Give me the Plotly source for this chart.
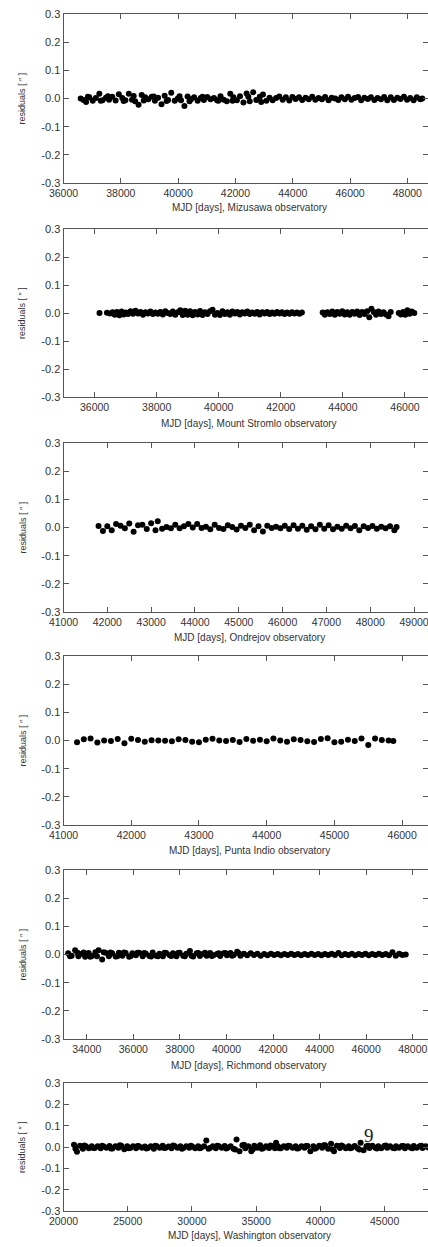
import plotly.graph_objects as go

W, H = 428, 1247

# ---------------- data ----------------
miz_x = [36600, 36700, 36790, 36900, 37020, 37130, 37250, 37360, 37480, 37590,
         37700, 37820, 37930, 38050, 38160, 38280, 38390, 38500, 38620, 38730,
         38850, 38960, 39080, 39190, 39300, 39420, 39530, 39650, 39760, 39880,
         39990, 40100, 40220, 40330, 40450, 40560, 40680, 40790, 40900, 41020,
         41130, 41250, 41360, 41480, 41590, 41700, 41820, 41930, 42050, 42160,
         42280, 42390, 42500, 42620, 42730, 42850, 42960, 43080, 43190, 43300,
         43420, 43530, 43650, 43760, 43880, 43990, 44100, 44220, 44330, 44450,
         44560, 44680, 44790, 44900, 45020, 45130, 45250, 45360, 45480, 45590,
         45700, 45820, 45930, 46050, 46160, 46280, 46390, 46500, 46620, 46730,
         46850, 46960, 47080, 47190, 47300, 47420, 47530, 47650, 47760, 47880,
         47990, 48100, 48220, 48330, 48450, 48520,
         36850, 37300, 37550, 38100, 38450, 38800, 39150, 39600, 40050, 40400,
         40850, 41400, 41900, 42450, 42900]
miz_y = [0.000, -0.005, -0.012, 0.004, -0.008, 0.002, 0.017, -0.006, 0.003, -0.004,
         0.006, -0.007, 0.015, 0.002, -0.006, 0.017, -0.004, -0.010, -0.022, 0.012,
         0.004, -0.003, 0.006, -0.008, 0.003, -0.020, 0.010, -0.005, 0.020, -0.008,
         0.000, -0.006, -0.027, 0.007, -0.003, 0.004, -0.008, 0.002, -0.005, 0.005,
         -0.003, 0.002, -0.006, 0.008, -0.004, -0.010, 0.017, 0.004, -0.006, 0.008,
         -0.014, 0.018, -0.010, 0.022, -0.005, 0.006, 0.014, -0.008, 0.003, -0.006,
         0.002, 0.007, -0.004, 0.004, -0.007, 0.005, -0.002, 0.004, -0.005, 0.003,
         -0.003, 0.006, -0.004, 0.002, -0.003, 0.005, -0.006, 0.003, 0.000, -0.005,
         0.004, -0.003, 0.006, -0.004, 0.002, 0.005, -0.006, 0.003, -0.002, 0.004,
         -0.005, 0.002, -0.003, 0.005, -0.006, 0.004, -0.005, 0.003, -0.002, 0.006,
         -0.004, 0.002, -0.006, 0.004, -0.003, 0.000,
         0.006, -0.008, 0.008, -0.009, 0.009, -0.007, 0.007, -0.009, 0.008, -0.010,
         0.006, -0.008, -0.008, 0.006, -0.012]

str_x = [36160, 36400, 36500, 36580, 36650, 36720, 36800, 36870, 36940, 37010,
         37080, 37160, 37240, 37320, 37400, 37480, 37560, 37640, 37720, 37800,
         37880, 37960, 38040, 38120, 38200, 38280, 38360, 38440, 38520, 38600,
         38680, 38760, 38840, 38920, 39000, 39080, 39160, 39240, 39320, 39400,
         39480, 39560, 39640, 39720, 39800, 39880, 39960, 40040, 40120, 40200,
         40280, 40360, 40440, 40520, 40600, 40680, 40760, 40840, 40920, 41000,
         41080, 41160, 41240, 41320, 41400, 41480, 41560, 41640, 41720, 41800,
         41880, 41960, 42040, 42120, 42200, 42280, 42360, 42440, 42520, 42600,
         42680,
         43350, 43420, 43500, 43580, 43660, 43740, 43820, 43900, 43980, 44060,
         44140, 44220, 44300, 44380, 44460, 44540, 44620, 44700, 44780, 44850,
         44920, 44990, 45070, 45150, 45230, 45310, 45390, 45470, 45540,
         45800, 45870, 45940, 46010, 46080, 46150, 46220, 46300]
str_y = [0.000, 0.001, -0.002, 0.003, -0.006, 0.004, -0.008, 0.005, -0.005, 0.002,
         -0.004, 0.006, -0.003, 0.008, -0.002, 0.004, -0.006, 0.003, -0.002, 0.005,
         -0.004, 0.002, -0.003, 0.004, -0.005, 0.006, 0.000, -0.004, 0.005, -0.006,
         0.003, 0.010, -0.007, 0.008, -0.006, 0.006, -0.008, 0.004, -0.005, 0.007,
         -0.007, 0.003, -0.004, 0.006, 0.012, -0.006, 0.000, -0.007, 0.006, -0.004,
         0.003, -0.006, 0.005, -0.002, 0.004, -0.005, 0.003, -0.002, 0.005, -0.004,
         0.002, -0.003, 0.004, -0.005, 0.003, -0.002, 0.004, -0.004, 0.002, -0.003,
         0.004, -0.002, 0.003, -0.004, 0.002, -0.003, 0.003, -0.002, 0.002, -0.003,
         0.002,
         0.002, -0.006, 0.003, -0.004, 0.005, -0.006, 0.004, -0.003, 0.006, -0.005,
         0.003, -0.006, 0.004, -0.003, 0.005, -0.007, 0.004, -0.004, 0.006, -0.015,
         0.015, 0.004, -0.006, 0.005, -0.004, 0.003, -0.005, -0.012, 0.004,
         0.000, -0.005, 0.004, -0.006, 0.010, -0.003, 0.005, 0.000]

ond_x = [41800, 41900, 42000, 42100, 42200, 42300, 42400, 42500, 42600, 42700,
         42800, 42900, 43000, 43100, 43150, 43250, 43350, 43450, 43550, 43650,
         43750, 43850, 43950, 44050, 44150, 44250, 44350, 44450, 44550, 44650,
         44750, 44850, 44950, 45050, 45150, 45250, 45350, 45450, 45550, 45650,
         45750, 45850, 45950, 46050, 46150, 46250, 46350, 46450, 46550, 46650,
         46750, 46850, 46950, 47050, 47150, 47250, 47350, 47450, 47550, 47650,
         47750, 47850, 47950, 48050, 48150, 48250, 48350, 48450, 48550, 48600]
ond_y = [0.005, -0.012, 0.004, -0.010, 0.012, 0.006, -0.003, 0.014, -0.015, 0.008,
         0.010, -0.005, 0.015, -0.010, 0.022, -0.004, 0.002, -0.003, 0.010, -0.003,
         0.004, 0.012, 0.000, 0.012, -0.002, 0.003, -0.006, 0.010, -0.002, -0.005,
         0.008, 0.002, -0.007, 0.006, -0.002, 0.010, -0.010, 0.004, -0.014, 0.006,
         -0.002, 0.003, -0.003, 0.006, -0.005, 0.008, -0.004, 0.006, -0.008, 0.004,
         -0.006, 0.010, -0.004, 0.008, -0.006, 0.003, -0.004, 0.006, -0.003, 0.005,
         -0.010, 0.004, -0.002, 0.005, -0.004, 0.003, -0.003, 0.004, -0.010, 0.002]

pun_x = [41200, 41300, 41400, 41500, 41600, 41700, 41800, 41900, 42000, 42100,
         42200, 42300, 42400, 42500, 42600, 42700, 42800, 42900, 43000, 43100,
         43200, 43300, 43400, 43500, 43600, 43700, 43800, 43900, 44000, 44100,
         44200, 44300, 44400, 44500, 44600, 44700, 44800, 44900, 45000, 45100,
         45200, 45300, 45400, 45500, 45600, 45700, 45800, 45870]
pun_y = [-0.006, 0.004, 0.007, -0.007, 0.000, -0.002, 0.005, -0.010, 0.006, 0.002,
         -0.004, 0.001, 0.000, -0.001, -0.003, 0.004, 0.002, -0.004, -0.006, 0.003,
         0.006, 0.000, -0.002, 0.002, -0.005, 0.005, -0.001, 0.003, -0.003, 0.007,
         0.000, -0.004, 0.004, 0.002, -0.003, -0.005, 0.005, 0.008, -0.006, -0.004,
         0.003, -0.002, 0.007, -0.016, 0.007, 0.002, 0.000, -0.002]

ric_x = [33200, 33350, 33500, 33640, 33790, 33930, 34080, 34220, 34370, 34510,
         34660, 34800, 34950, 35090, 35240, 35380, 35530, 35670, 35820, 35960,
         36110, 36250, 36400, 36540, 36690, 36830, 36980, 37120, 37270, 37410,
         37560, 37700, 37850, 37990, 38140, 38280, 38430, 38570, 38720, 38860,
         39010, 39150, 39300, 39440, 39590, 39730, 39880, 40020, 40170, 40310,
         40460, 40600, 40750, 40890, 41040, 41180, 41330, 41470, 41620, 41760,
         41910, 42050, 42200, 42340, 42490, 42630, 42780, 42920, 43070, 43210,
         43360, 43500, 43650, 43790, 43940, 44080, 44230, 44370, 44520, 44660,
         44810, 44950, 45100, 45240, 45390, 45530, 45680, 45820, 45970, 46110,
         46260, 46400, 46550, 46690, 46840, 46980, 47130, 47270, 47420, 47560,
         47700,
         33280, 33600, 33870, 34150, 34440, 34730, 35020, 35310, 35600, 35890,
         36180, 36470, 36760, 37050, 37340, 37630, 37920, 38210, 38500, 38790,
         39080, 39370, 39660, 39950, 40240, 40530]
ric_y = [0.004, -0.004, 0.015, -0.006, 0.003, -0.008, 0.005, -0.005, 0.008, 0.015,
         -0.018, 0.006, -0.006, 0.004, -0.007, 0.006, -0.004, 0.005, -0.008, 0.004,
         -0.003, 0.006, -0.006, 0.003, -0.005, 0.007, -0.004, 0.003, -0.006, 0.005,
         -0.003, 0.004, -0.006, 0.006, -0.004, 0.003, 0.012, -0.007, 0.004, -0.005,
         0.003, -0.004, 0.005, -0.003, 0.002, -0.005, 0.004, -0.003, 0.005, -0.002,
         0.010, -0.004, 0.003, -0.003, 0.004, -0.002, 0.003, -0.004, 0.002, -0.003,
         0.003, -0.002, 0.002, -0.003, 0.002, -0.002, 0.003, -0.002, 0.002, -0.003,
         0.002, -0.002, 0.003, -0.002, 0.002, -0.003, 0.002, -0.002, 0.003, -0.002,
         0.005, -0.003, 0.002, -0.002, 0.003, -0.003, 0.002, -0.002, 0.003, -0.003,
         0.002, -0.002, 0.003, -0.002, 0.002, -0.003, 0.008, -0.004, 0.003, -0.002,
         0.000,
         -0.006, 0.006, 0.007, -0.008, -0.006, 0.008, 0.007, -0.006, 0.007, -0.005,
         0.006, 0.005, -0.007, -0.006, 0.006, -0.005, 0.005, -0.006, -0.004, 0.005,
         0.006, -0.005, 0.004, 0.005, -0.004, 0.004]

was_x = [20820, 21050, 21280, 21510, 21740, 21970, 22200, 22430, 22660, 22890,
         23120, 23350, 23580, 23810, 24040, 24270, 24500, 24730, 24960, 25190,
         25420, 25650, 25880, 26110, 26340, 26570, 26800, 27030, 27260, 27490,
         27720, 27950, 28180, 28410, 28640, 28870, 29100, 29330, 29560, 29790,
         30020, 30250, 30480, 30710, 30940, 31120, 31400, 31630, 31860, 32090,
         32320, 32550, 32780, 33010, 33240, 33470, 33700, 33930, 34160, 34390,
         34620, 34850, 35080, 35310, 35540, 35770, 36000, 36230, 36460, 36550,
         36690, 36920, 37150, 37380, 37610, 37840, 38070, 38300, 38530, 38760,
         38990, 39220, 39450, 39680, 39910, 40140, 40370, 40600, 40830, 41060,
         41290, 41520, 41750, 41980, 42210, 42440, 42670, 42900, 43130, 43360,
         43590, 43820, 44050, 44280, 44510, 44740, 44970, 45200, 45430, 45660,
         45890, 46120, 46350, 46580, 46810, 47040, 47270, 47500, 47730, 47960,
         48190, 48420, 48650,
         20930, 21630, 22320, 23010, 23700, 24390, 25080, 25770, 26460, 27150,
         27840, 28530, 29220, 29910, 30600, 31290, 31980, 32670, 33360, 34050,
         34740, 35430, 36120, 36810, 37500, 38190, 38880, 39570, 40260, 40950,
         41640, 42330, 43020, 43710, 44400, 45090, 45780, 46470, 47160, 47850]
was_y = [0.010, -0.022, 0.006, -0.008, 0.004, -0.006, 0.003, -0.005, 0.004, -0.006,
         0.002, -0.004, 0.005, -0.007, 0.003, -0.003, 0.006, -0.010, 0.004, -0.005,
         0.003, -0.006, 0.004, -0.004, 0.002, -0.005, 0.004, -0.008, 0.003, -0.004,
         0.006, -0.003, 0.002, -0.006, 0.005, -0.004, 0.003, -0.005, 0.004, -0.003,
         0.002, -0.006, 0.004, -0.004, 0.003, 0.030, -0.005, 0.004, -0.006, 0.003,
         -0.004, 0.005, -0.003, 0.004, -0.008, 0.035, -0.020, 0.008, -0.006, 0.004,
         -0.020, 0.006, -0.004, 0.008, -0.006, 0.004, -0.005, 0.003, -0.006, 0.020,
         0.004, -0.006, 0.003, -0.004, 0.005, -0.003, 0.004, -0.006, 0.003, -0.004,
         0.005, -0.020, 0.004, -0.005, 0.006, -0.004, 0.008, -0.008, 0.015, -0.020,
         0.006, -0.005, 0.004, -0.006, 0.003, -0.004, 0.005, -0.006, 0.020, -0.015,
         0.004, -0.005, 0.006, -0.004, 0.003, -0.006, 0.005, -0.004, 0.004, -0.005,
         0.003, -0.004, 0.005, -0.006, 0.004, -0.003, 0.005, -0.004, 0.003, -0.005,
         0.004, -0.003, 0.002,
         -0.008, 0.007, -0.005, 0.006, -0.007, 0.008, -0.006, 0.005, -0.007, 0.006,
         -0.005, 0.007, -0.008, 0.006, -0.006, -0.008, 0.006, -0.007, -0.012, 0.010,
         -0.010, -0.008, 0.007, -0.006, 0.006, -0.007, 0.005, -0.008, 0.008, -0.012,
         0.007, -0.006, -0.012, 0.006, -0.007, 0.007, -0.006, 0.005, -0.006, 0.006]

titles = ["MJD [days], Mizusawa observatory",
          "MJD [days], Mount Stromlo observatory",
          "MJD [days], Ondrejov observatory",
          "MJD [days], Punta Indio observatory",
          "MJD [days], Richmond observatory",
          "MJD [days], Washington observatory"]

# full axis ranges of the original panels (their right edge lies just past the crop)
full_ranges = [[36000, 49000], [35000, 47000], [41000, 49500],
               [41000, 46500], [33000, 49000], [20000, 49000]]

x_ticks = [[36000, 38000, 40000, 42000, 44000, 46000, 48000],
           [36000, 38000, 40000, 42000, 44000, 46000],
           [41000, 42000, 43000, 44000, 45000, 46000, 47000, 48000, 49000],
           [41000, 42000, 43000, 44000, 45000, 46000],
           [34000, 36000, 38000, 40000, 42000, 44000, 46000, 48000],
           [20000, 25000, 30000, 35000, 40000, 45000]]

y_ticks = [-0.3, -0.2, -0.1, 0.0, 0.1, 0.2, 0.3]
y_tick_text = ["-0.3", "-0.2", "-0.1", "0.0", "0.1", "0.2", "0.3"]
y_title = "residuals [ \u2033 ]"

# pixel layout of panels (top, bottom) and title rows
panel_px = [(14, 183), (229, 397), (443, 612), (656, 825), (870, 1039), (1083, 1211)]
title_px = [207, 423, 637, 851, 1065, 1235]
left_px = 63.5
full_right_px = 436.0   # where the uncropped frame would end


def fx(p):
    return p / W


def fy(p):
    return 1 - p / H


def visible_range(r):
    frac = (W - left_px) / (full_right_px - left_px)
    return [r[0], r[0] + (r[1] - r[0]) * frac]


series = [(miz_x, miz_y), (str_x, str_y), (ond_x, ond_y),
          (pun_x, pun_y), (ric_x, ric_y), (was_x, was_y)]

FONT = "Liberation Sans, Arial, sans-serif"
TXT = "#333333"
LINE = "#555555"

fig = go.Figure()
layout = dict(width=W, height=H, margin=dict(l=0, r=0, t=0, b=0, pad=0, autoexpand=False),
              template="none",
              paper_bgcolor="white", plot_bgcolor="white",
              showlegend=False, annotations=[])

for i, ((xs, ys), (top, bot)) in enumerate(zip(series, panel_px)):
    n = "" if i == 0 else str(i + 1)
    fig.add_trace(go.Scatter(x=xs, y=ys, mode="markers",
                             marker=dict(color="black", size=6, line=dict(width=0)),
                             xaxis="x" + n, yaxis="y" + n, hoverinfo="skip"))
    layout["xaxis" + n] = dict(
        domain=[fx(left_px), 1.0], anchor="y" + n, range=visible_range(full_ranges[i]),
        tickvals=x_ticks[i], ticktext=[str(v) for v in x_ticks[i]],
        ticks="inside", ticklen=5, tickwidth=1, tickcolor=LINE,
        showline=True, linecolor=LINE, linewidth=1, mirror="ticks",
        showgrid=False, zeroline=False, automargin=False,
        ticklabeloverflow="allow",
        tickfont=dict(family=FONT, size=10.5, color=TXT))
    layout["yaxis" + n] = dict(
        domain=[fy(bot), fy(top)], anchor="x" + n, range=[-0.3, 0.3],
        tickvals=y_ticks, ticktext=y_tick_text,
        ticks="inside", ticklen=5, tickwidth=1, tickcolor=LINE,
        showline=True, linecolor=LINE, linewidth=1, mirror="ticks",
        showgrid=False, zeroline=False, automargin=False,
        ticklabeloverflow="allow",
        tickfont=dict(family=FONT, size=11, color=TXT))
    layout["annotations"].append(dict(
        text=titles[i], xref="paper", yref="paper",
        x=fx(249), y=fy(title_px[i]), xanchor="center", yanchor="middle",
        showarrow=False, font=dict(family=FONT, size=10, color=TXT)))
    layout["annotations"].append(dict(
        text=y_title, xref="paper", yref="paper", textangle=-90,
        x=fx(22), y=fy((top + bot) / 2), xanchor="center", yanchor="middle",
        showarrow=False, font=dict(family=FONT, size=9, color=TXT)))

layout["annotations"].append(dict(
    text="9", xref="x6", yref="y6", x=43750, y=0.056,
    xanchor="center", yanchor="middle", showarrow=False,
    font=dict(family="Liberation Serif, serif", size=19, color="#222222")))

fig.update_layout(**layout)
fig.write_html("out.html",
               config={"displayModeBar": False, "staticPlot": True},
               post_script="document.body.style.margin='0';"
                           "document.body.style.overflow='hidden';")
